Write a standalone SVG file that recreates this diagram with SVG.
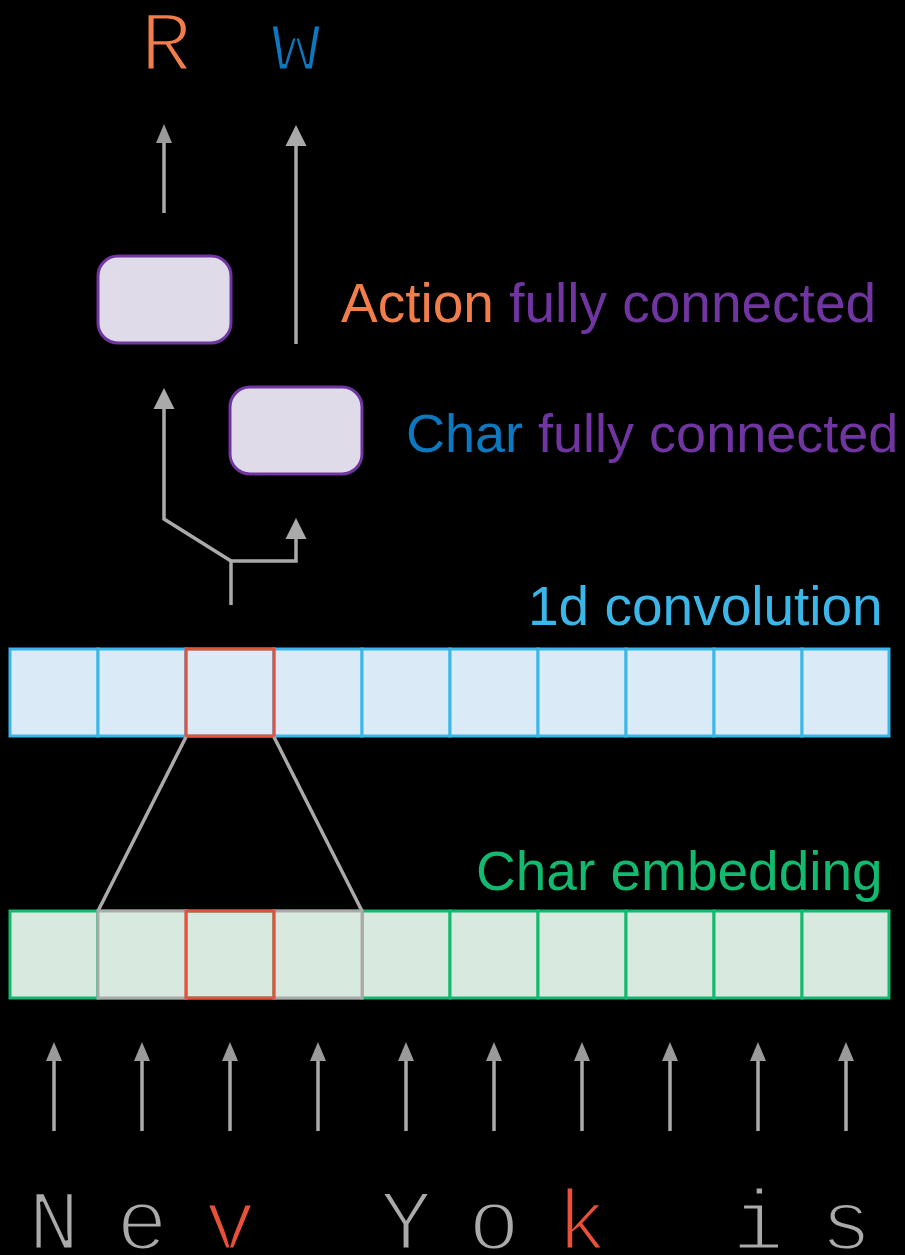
<svg xmlns="http://www.w3.org/2000/svg" width="905" height="1255" viewBox="0 0 905 1255">
<style>
.lbl{font-family:"Liberation Sans",Arial,sans-serif;font-size:55px}
.chr{font-family:"Liberation Mono","Courier New",monospace;font-size:86px;text-anchor:middle;stroke:#000000;stroke-width:3px;paint-order:normal}
.conv{fill:#dbeaf7;stroke:#3bb6e8;stroke-width:3}
.emb{fill:#d8eadf;stroke:#12b96f;stroke-width:3}
.win{fill:#d8eadf;stroke:#aaaaaa;stroke-width:3}
.hl{fill:none;stroke:#e8503a;stroke-width:3}
.fc{fill:#dfdbe9;stroke:#7035a0;stroke-width:3}
.wire{fill:none;stroke:#aaaaaa;stroke-width:3.5}
</style>
<defs>
<marker id="arr" markerUnits="userSpaceOnUse" markerWidth="22" markerHeight="22" refX="0" refY="10.5" orient="auto" overflow="visible">
<path d="M0,0 L21,10.5 L0,21 Z" fill="#aaaaaa"/>
</marker>
<marker id="arrS" markerUnits="userSpaceOnUse" markerWidth="18" markerHeight="18" refX="0" refY="8" orient="auto" overflow="visible">
<path d="M0,0 L19,8 L0,16 Z" fill="#9a9a9a"/>
</marker>
</defs>
<rect x="0" y="0" width="905" height="1255" fill="#000000"/>

<g id="outputs">
<text class="chr" x="166" y="70" fill="#f07d4a">R</text>
<text class="chr" x="296" y="70" fill="#0b78bf">w</text>
</g>

<g id="action-fc">
<rect class="fc" x="98" y="256" width="133" height="87" rx="20"/>
<text class="lbl" x="341" y="322"><tspan fill="#f07d4a">Action</tspan> <tspan fill="#7035a0">fully connected</tspan></text>
</g>

<g id="char-fc">
<rect class="fc" x="230" y="387" width="132" height="87" rx="20"/>
<text class="lbl" x="406" y="452" style="font-size:54px"><tspan fill="#0b78bf">Char</tspan> <tspan fill="#7035a0">fully connected</tspan></text>
</g>

<g id="conv">
<text class="lbl" x="528" y="625" fill="#3bb6e8">1d convolution</text>
<rect class="conv" x="10" y="649" width="88" height="87"/>
<rect class="conv" x="98" y="649" width="88" height="87"/>
<rect class="conv" x="186" y="649" width="88" height="87"/>
<rect class="conv" x="274" y="649" width="88" height="87"/>
<rect class="conv" x="362" y="649" width="88" height="87"/>
<rect class="conv" x="450" y="649" width="88" height="87"/>
<rect class="conv" x="538" y="649" width="88" height="87"/>
<rect class="conv" x="626" y="649" width="88" height="87"/>
<rect class="conv" x="714" y="649" width="88" height="87"/>
<rect class="conv" x="802" y="649" width="87" height="87"/>
<rect class="hl" x="186" y="649" width="88" height="87"/>
</g>

<g id="embedding">
<text class="lbl" x="476" y="890" fill="#12b96f">Char embedding</text>
<rect class="emb" x="10" y="911" width="88" height="87"/>
<rect class="emb" x="98" y="911" width="88" height="87"/>
<rect class="emb" x="186" y="911" width="88" height="87"/>
<rect class="emb" x="274" y="911" width="88" height="87"/>
<rect class="emb" x="362" y="911" width="88" height="87"/>
<rect class="emb" x="450" y="911" width="88" height="87"/>
<rect class="emb" x="538" y="911" width="88" height="87"/>
<rect class="emb" x="626" y="911" width="88" height="87"/>
<rect class="emb" x="714" y="911" width="88" height="87"/>
<rect class="emb" x="802" y="911" width="87" height="87"/>
<rect class="win" x="98" y="911" width="88" height="87"/>
<rect class="win" x="274" y="911" width="88" height="87"/>
<rect class="hl" x="186" y="911" width="88" height="87"/>
</g>

<g id="chars">
<text class="chr" x="54" y="1249" fill="#aaaaaa">N</text>
<text class="chr" x="142" y="1249" fill="#aaaaaa">e</text>
<text class="chr" x="230" y="1249" fill="#e8503a">v</text>
<text class="chr" x="406" y="1249" fill="#aaaaaa">Y</text>
<text class="chr" x="494" y="1249" fill="#aaaaaa">o</text>
<text class="chr" x="582" y="1249" fill="#e8503a">k</text>
<text class="chr" x="758" y="1249" fill="#aaaaaa">i</text>
<text class="chr" x="846" y="1249" fill="#aaaaaa">s</text>
</g>

<g id="connectors">
<line class="wire" x1="164" y1="213" x2="164" y2="143" marker-end="url(#arrS)"/>
<line class="wire" x1="296" y1="344" x2="296" y2="146" marker-end="url(#arr)"/>
<polyline class="wire" points="231,605 231,561 164,519 164,409" marker-end="url(#arr)"/>
<polyline class="wire" points="231,561 296,561 296,539" marker-end="url(#arr)"/>
<line class="wire" x1="186" y1="737" x2="98" y2="911"/>
<line class="wire" x1="274" y1="737" x2="362" y2="911"/>
<line class="wire" x1="54" y1="1131" x2="54" y2="1061" marker-end="url(#arrS)"/>
<line class="wire" x1="142" y1="1131" x2="142" y2="1061" marker-end="url(#arrS)"/>
<line class="wire" x1="230" y1="1131" x2="230" y2="1061" marker-end="url(#arrS)"/>
<line class="wire" x1="318" y1="1131" x2="318" y2="1061" marker-end="url(#arrS)"/>
<line class="wire" x1="406" y1="1131" x2="406" y2="1061" marker-end="url(#arrS)"/>
<line class="wire" x1="494" y1="1131" x2="494" y2="1061" marker-end="url(#arrS)"/>
<line class="wire" x1="582" y1="1131" x2="582" y2="1061" marker-end="url(#arrS)"/>
<line class="wire" x1="670" y1="1131" x2="670" y2="1061" marker-end="url(#arrS)"/>
<line class="wire" x1="758" y1="1131" x2="758" y2="1061" marker-end="url(#arrS)"/>
<line class="wire" x1="846" y1="1131" x2="846" y2="1061" marker-end="url(#arrS)"/>
</g>
</svg>
